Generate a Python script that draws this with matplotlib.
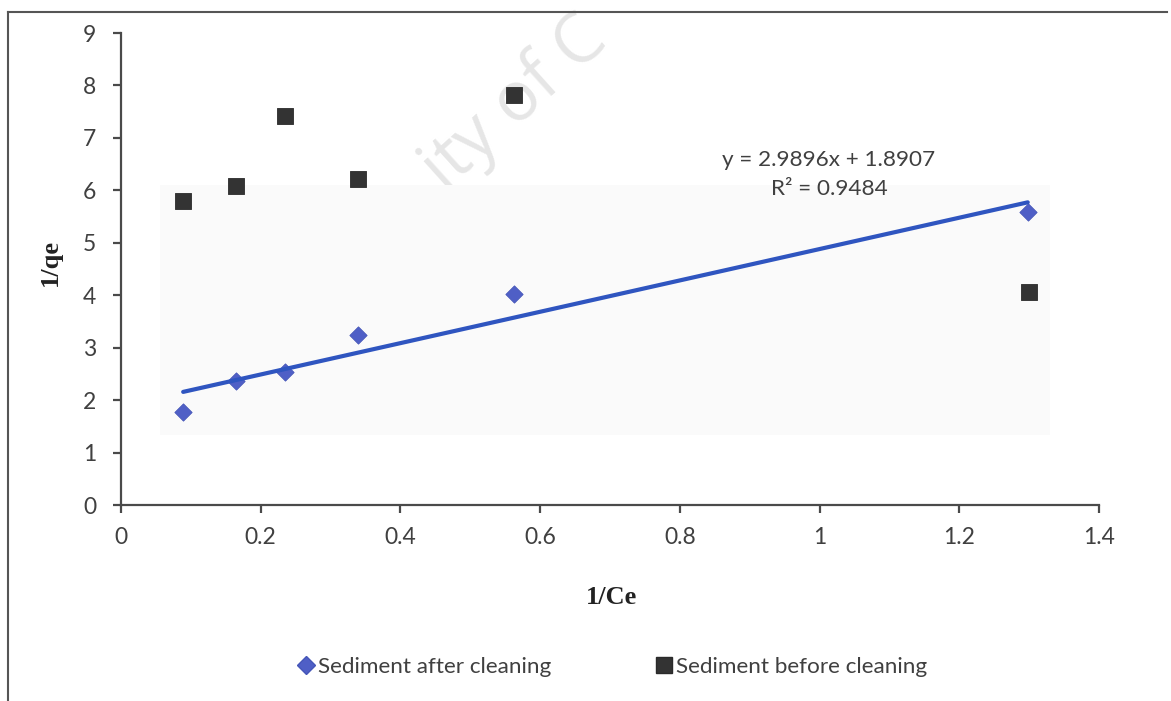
import matplotlib
matplotlib.use("Agg")
import matplotlib.pyplot as plt
from matplotlib.lines import Line2D
from matplotlib.patches import Rectangle
import numpy as np

# Langmuir linearisation: 1/qe against 1/Ce
inv_ce_after = [0.089, 0.165, 0.235, 0.339, 0.563, 1.298]
inv_qe_after = [1.77, 2.37, 2.54, 3.24, 4.03, 5.59]

inv_ce_before = [0.089, 0.165, 0.235, 0.339, 0.563, 1.300]
inv_qe_before = [5.80, 6.09, 7.42, 6.22, 7.81, 4.06]

fit_slope = 2.9896
fit_intercept = 1.8907
fit_r2 = 0.9484

x_ticks = [0, 0.2, 0.4, 0.6, 0.8, 1, 1.2, 1.4]
x_tick_labels = ["0", "0.2", "0.4", "0.6", "0.8", "1", "1.2", "1.4"]
y_ticks = list(range(0, 10))

series_names = ["Sediment after cleaning", "Sediment before cleaning"]
watermark = "ity of C"

W, H = 1171, 701
fig = plt.figure(figsize=(W / 100, H / 100), dpi=100)
fig.patch.set_facecolor("white")

def px(x, y):
    """Pixel position (from top-left) to figure fraction."""
    return x / W, 1 - y / H

ax_l, ax_t = px(121, 33)
ax_r, ax_b = px(1099, 505)
ax = fig.add_axes([ax_l, ax_b, ax_r - ax_l, ax_t - ax_b])
ax.set_facecolor("none")

tick_font = "Lato"
axis_grey = "#4a4a4a"
text_grey = "#404040"

# faint diagonal watermark and the pale panel behind the data
wx, wy = px(515, 104)
ax.text(wx, wy, watermark, transform=fig.transFigure,
        rotation=42, ha="center", va="center", rotation_mode="anchor",
        fontsize=50, family="Open Sans", color="#e6e6e6", zorder=0.2,
        clip_on=False)
rx0, ry1 = px(160, 185)
rx1, ry0 = px(1050, 435)
ax.add_artist(Rectangle((rx0, ry0), rx1 - rx0, ry1 - ry0,
                        transform=fig.transFigure, facecolor="#fafafa",
                        edgecolor="none", zorder=0.3, clip_on=False))

# data
ax.scatter(inv_ce_before, inv_qe_before, marker="s", s=12 ** 2,
           color="#333333", edgecolors="#2a2a2a", linewidths=0.6, zorder=3,
           label=series_names[1])
ax.scatter(inv_ce_after, inv_qe_after, marker="D", s=8.8 ** 2,
           color="#4f5fc6", edgecolors="#4556b8", linewidths=0.6, zorder=4,
           label=series_names[0])

xf = np.array([min(inv_ce_after), max(inv_ce_after)])
ax.plot(xf, fit_slope * xf + fit_intercept, color="#2f55c0", lw=3.0,
        solid_capstyle="round", zorder=5)

ex, ey = px(829, 160)
fig.text(ex, ey, f"y = {fit_slope}x + {fit_intercept}", ha="center",
         va="center", fontsize=16.2, family=tick_font, color=text_grey)
ex, ey = px(829, 189)
fig.text(ex, ey, f"R² = {fit_r2}", ha="center", va="center",
         fontsize=16.2, family=tick_font, color=text_grey)

# axes styling
ax.set_xlim(0, 1.4)
ax.set_ylim(0, 9)
ax.set_xticks(x_ticks)
ax.set_xticklabels(x_tick_labels)
ax.set_yticks(y_ticks)
for side in ("top", "right"):
    ax.spines[side].set_visible(False)
for side in ("left", "bottom"):
    ax.spines[side].set_color(axis_grey)
    ax.spines[side].set_linewidth(1.6)
ax.tick_params(axis="both", direction="out", length=6, width=1.6,
               color=axis_grey, labelcolor=text_grey, labelsize=16.5)
ax.tick_params(axis="x", pad=10)
ax.tick_params(axis="y", pad=12)
for lab in ax.get_xticklabels() + ax.get_yticklabels():
    lab.set_family(tick_font)

lx, ly = px(612, 597)
fig.text(lx, ly, "1/Ce", ha="center", va="center", fontsize=19,
         family="Liberation Serif", weight="bold", color="#222222")
lx, ly = px(50, 262)
fig.text(lx, ly, "1/qe", ha="center", va="center", fontsize=19,
         family="Liberation Serif", weight="bold", color="#222222",
         rotation=90)

# legend
handles = [
    Line2D([], [], marker="D", ls="none", ms=8.8, color="#4f5fc6",
           markeredgecolor="#4556b8"),
    Line2D([], [], marker="s", ls="none", ms=12, color="#333333",
           markeredgecolor="#2a2a2a"),
]
gx, gy = px(612, 667)
leg = fig.legend(handles, series_names, loc="center", bbox_to_anchor=(gx, gy),
                 ncol=2, frameon=False, handlelength=0.8, handletextpad=0.15,
                 columnspacing=4.6, prop={"family": tick_font, "size": 16.2})
for t in leg.get_texts():
    t.set_color(text_grey)

# page frame edges
fig.add_artist(Line2D([8 / W, 8 / W], [0, 1 - 12 / H], transform=fig.transFigure,
                      color="#555555", lw=1.5))
fig.add_artist(Line2D([8 / W, 1167 / W], [1 - 12 / H, 1 - 12 / H],
                      transform=fig.transFigure, color="#555555", lw=1.5))

fig.savefig("out.png", dpi=100, facecolor="white")
